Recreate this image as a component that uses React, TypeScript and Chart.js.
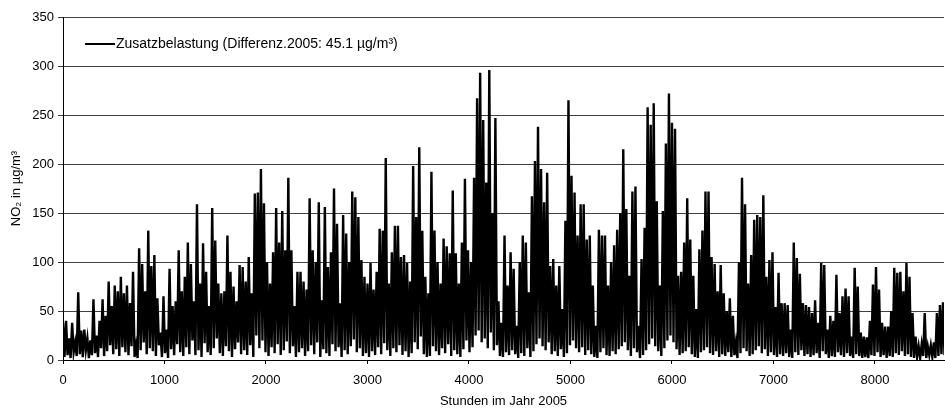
import React, { useEffect, useRef } from "react";
import { Chart, registerables } from "chart.js";

Chart.register(...registerables);

// Each block covers 30 hours: one peak value (start of block) and one low value (middle of block)
const HOURS_PER_BLOCK = 30;

const blockPeaks = [
  38, 40, 22, 38, 18, 69, 30, 31, 22, 20,
  62, 25, 40, 62, 45, 80, 55, 76, 70, 85,
  68, 76, 58, 90, 15, 114, 98, 70, 132, 96,
  107, 63, 28, 65, 31, 93, 55, 60, 112, 70,
  85, 120, 98, 60, 159, 78, 119, 90, 55, 155,
  122, 78, 68, 70, 127, 90, 75, 60, 97, 95,
  80, 105, 68, 170, 171, 195, 160, 100, 78, 110,
  155, 120, 152, 112, 186, 112, 55, 90, 90, 80,
  72, 165, 112, 100, 161, 61, 156, 95, 110, 175,
  139, 58, 148, 129, 100, 172, 166, 146, 102, 85,
  78, 99, 72, 90, 134, 132, 206, 78, 110, 137,
  137, 105, 107, 99, 80, 198, 146, 217, 132, 85,
  68, 192, 132, 100, 78, 124, 116, 109, 173, 109,
  78, 120, 185, 112, 100, 186, 267, 293, 245, 181,
  296, 150, 247, 60, 38, 127, 76, 110, 93, 35,
  100, 127, 120, 69, 167, 203, 238, 195, 161, 191,
  96, 103, 76, 96, 52, 142, 265, 188, 171, 127,
  159, 159, 123, 127, 76, 35, 133, 127, 127, 76,
  100, 117, 133, 150, 215, 154, 86, 172, 177, 35,
  103, 135, 258, 240, 262, 162, 76, 152, 221, 272,
  242, 236, 86, 90, 120, 165, 123, 86, 52, 113,
  132, 172, 172, 105, 98, 70, 97, 68, 50, 63,
  45, 18, 100, 186, 159, 78, 107, 143, 148, 146,
  168, 85, 102, 110, 54, 89, 58, 58, 56, 31,
  120, 104, 88, 58, 56, 54, 48, 61, 38, 99,
  97, 31, 45, 40, 87, 48, 65, 73, 65, 24,
  94, 75, 28, 24, 23, 40, 77, 95, 72, 38,
  34, 34, 50, 94, 89, 90, 70, 99, 85, 48,
  24, 14, 16, 48, 14, 15, 18, 48, 56, 59,
];

const blockLows = [
  3, 5, 2, 8, 4, 6, 3, 10, 2, 5,
  7, 3, 12, 4, 9, 15, 6, 11, 4, 13,
  8, 5, 14, 3, 2, 10, 18, 6, 12, 9,
  4, 15, 3, 7, 2, 11, 5, 16, 8, 4,
  13, 6, 20, 5, 10, 3, 17, 8, 5, 12,
  22, 7, 4, 14, 9, 3, 11, 18, 6, 10,
  5, 15, 3, 25, 12, 20, 8, 4, 13, 7,
  16, 5, 10, 19, 7, 14, 3, 8, 12, 4,
  9, 15, 6, 18, 3, 11, 7, 4, 16, 9,
  13, 3, 10, 6, 14, 21, 8, 12, 4, 7,
  3, 9, 5, 13, 6, 17, 10, 4, 12, 8,
  15, 5, 9, 3, 7, 18, 11, 24, 6, 3,
  4, 14, 9, 5, 12, 7, 16, 4, 10, 6,
  3, 11, 20, 8, 13, 25, 30, 18, 22, 12,
  28, 10, 15, 4, 3, 8, 5, 10, 6, 2,
  7, 4, 12, 3, 9, 16, 22, 14, 10, 18,
  6, 9, 4, 11, 3, 7, 15, 20, 12, 8,
  13, 5, 10, 6, 3, 2, 8, 12, 5, 4,
  9, 6, 11, 14, 18, 10, 4, 12, 8, 2,
  5, 10, 16, 22, 14, 9, 4, 12, 20, 25,
  18, 11, 5, 7, 9, 13, 6, 3, 2, 8,
  10, 13, 7, 5, 9, 3, 6, 4, 8, 3,
  5, 2, 7, 12, 9, 4, 6, 10, 14, 7,
  11, 4, 8, 5, 3, 6, 4, 7, 3, 2,
  8, 5, 10, 4, 6, 3, 5, 7, 2, 9,
  6, 2, 4, 3, 8, 5, 3, 7, 4, 2,
  6, 4, 2, 3, 2, 5, 4, 8, 3, 5,
  2, 4, 3, 7, 5, 9, 4, 6, 3, 2,
  3, 2, 4, 2, 5, 3, 2, 4, 6, 5,
];

const X_MIN = 0;
const X_MAX = 8680;
const Y_MIN = 0;
const Y_MAX = 350;
const xTickValues = [0, 1000, 2000, 3000, 4000, 5000, 6000, 7000, 8000];
const yTickValues = [0, 50, 100, 150, 200, 250, 300, 350];

const seriesLabel = "Zusatzbelastung (Differenz.2005: 45.1 µg/m³)";
const xTitle = "Stunden im Jahr 2005";
const yTitle = "NO₂ in µg/m³";

const FONT_FAMILY = '"Liberation Sans", Arial, sans-serif';

function buildSeries() {
  const pts: { x: number; y: number }[] = [];
  for (let i = 0; i < blockPeaks.length; i++) {
    pts.push({ x: i * HOURS_PER_BLOCK, y: blockPeaks[i] });
    pts.push({ x: i * HOURS_PER_BLOCK + HOURS_PER_BLOCK / 2, y: blockLows[i] });
  }
  return pts;
}

const insideLegend = {
  id: "insideLegend",
  afterDraw(chart: any) {
    const { ctx, chartArea } = chart;
    ctx.save();
    const y = chartArea.top + 27;
    ctx.strokeStyle = "#000";
    ctx.lineWidth = 2;
    ctx.beginPath();
    ctx.moveTo(chartArea.left + 22, y);
    ctx.lineTo(chartArea.left + 52, y);
    ctx.stroke();
    ctx.font = `14px ${FONT_FAMILY}`;
    ctx.fillStyle = "#000";
    ctx.textBaseline = "alphabetic";
    ctx.textAlign = "left";
    ctx.fillText(seriesLabel, chartArea.left + 53, y + 4);
    ctx.restore();
  },
};

export default function App() {
  const ref = useRef<HTMLCanvasElement | null>(null);

  useEffect(() => {
    if (!ref.current) return;
    const chart = new Chart(ref.current, {
      type: "line",
      data: {
        datasets: [
          {
            label: seriesLabel,
            data: buildSeries(),
            borderColor: "#000",
            borderWidth: 2.4,
            borderJoinStyle: "miter",
            pointRadius: 0,
            tension: 0,
            fill: false,
          },
        ],
      },
      options: {
        animation: false,
        responsive: false,
        layout: { padding: { top: 17, right: 1, left: 0, bottom: 0 } },
        plugins: {
          legend: { display: false },
          tooltip: { enabled: false },
        },
        scales: {
          x: {
            type: "linear",
            min: X_MIN,
            max: X_MAX,
            afterBuildTicks: (s: any) => {
              s.ticks = xTickValues.map((v) => ({ value: v }));
            },
            ticks: {
              autoSkip: false,
              maxRotation: 0,
              color: "#000",
              padding: 9,
              font: { family: FONT_FAMILY, size: 13 },
              callback: (v: any) => String(v),
            },
            grid: {
              drawOnChartArea: false,
              drawTicks: true,
              tickLength: 4,
              color: "#000",
            },
            border: { display: true, color: "#000" },
            title: {
              display: true,
              text: xTitle,
              color: "#000",
              padding: 0,
              font: { family: FONT_FAMILY, size: 13, lineHeight: 1 },
            },
            afterFit: (s: any) => {
              s.height = 48;
            },
          },
          y: {
            min: Y_MIN,
            max: Y_MAX,
            afterBuildTicks: (s: any) => {
              s.ticks = yTickValues.map((v) => ({ value: v }));
            },
            ticks: {
              color: "#000",
              padding: 4,
              font: { family: FONT_FAMILY, size: 13 },
              callback: (v: any) => String(v),
            },
            grid: {
              color: "#404040",
              tickLength: 5,
            },
            border: { display: true, color: "#000" },
            title: {
              display: true,
              text: yTitle,
              color: "#000",
              padding: { top: 9, bottom: 0 },
              font: { family: FONT_FAMILY, size: 13 },
            },
            afterFit: (s: any) => {
              s.width = 63;
            },
          },
        },
      },
      plugins: [insideLegend],
    });
    return () => chart.destroy();
  }, []);

  return (
    <div style={{ position: "fixed", left: 0, top: 0, width: 945, height: 408, background: "#fff" }}>
      <canvas ref={ref} width={945} height={408} style={{ display: "block" }} />
    </div>
  );
}
